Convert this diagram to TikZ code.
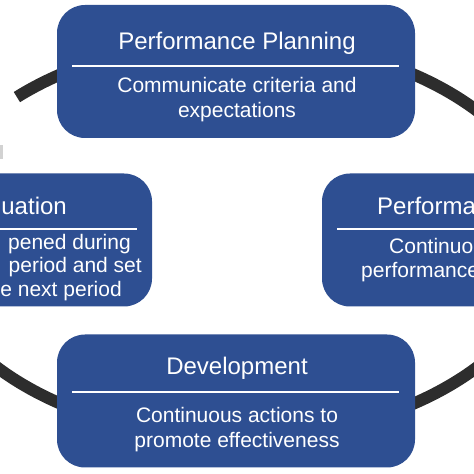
\documentclass[tikz,border=0pt]{standalone}
\usepackage{fontspec}
\setmainfont{Liberation Sans}
\usepackage{tikz}
\definecolor{boxblue}{RGB}{46,79,146}
\definecolor{ringgray}{RGB}{45,45,45}
\tikzset{
  stage/.style={fill=boxblue, rounded corners=28pt, minimum width=358pt, minimum height=133pt, inner sep=0pt},
  divider/.style={white, line width=2.6pt},
  headtext/.style={text=white, font=\fontsize{24}{28}\selectfont, inner sep=0pt},
  bodytext/.style={text=white, font=\fontsize{21}{25}\selectfont, inner sep=0pt}
}

\begin{document}
\begin{tikzpicture}[x=1pt,y=1pt]
    \useasboundingbox (0,0) rectangle (474,474);
    \clip (0,0) rectangle (474,474);
    % ring behind the boxes
    \draw[ringgray, line width=12pt] (16.9,376.9) arc[start angle=134.5, end angle=-200, x radius=314, y radius=199];
    \fill[gray!35] (0,315) rectangle (3,329);
    % boxes
    \node[stage] (plan) at (236,402.5) {};
    \node[stage] (review) at (-27,234) {};
    \node[stage] (monitor) at (501,234) {};
    \node[stage] (develop) at (236,73) {};
    % top
    \draw[divider] (72,408)--(399,408);
    \node[headtext, anchor=base] (plantitle) at (237,424) {Performance Planning};
    \node[bodytext, anchor=base] (planline1) at (237,381) {Communicate criteria and};
    \node[bodytext, anchor=base] (planline2) at (237,356) {expectations};
    % left
    \draw[divider] (-191,245)--(137,245);
    \node[headtext, anchor=base east] (reviewtitle) at (67,259) {luation};
    \node[bodytext, anchor=base east] (reviewline1) at (131,224) {pened during};
    \node[bodytext, anchor=base east] (reviewline2) at (142,201) {period and set};
    \node[bodytext, anchor=base east] (reviewline3) at (122,177) {e next period};
    % right
    \draw[divider] (337,245)--(665,245);
    \node[headtext, anchor=base west] (monitortitle) at (377,259) {Performa};
    \node[bodytext, anchor=base west] (monitorline1) at (389,220) {Continuo};
    \node[bodytext, anchor=base west] (monitorline2) at (361,196) {performance};
    % bottom
    \draw[divider] (72,82)--(399,82);
    \node[headtext, anchor=base] (developtitle) at (237,99) {Development};
    \node[bodytext, anchor=base] (developline1) at (237,51) {Continuous actions to};
    \node[bodytext, anchor=base] (developline2) at (237,27) {promote effectiveness};
\end{tikzpicture}
\end{document}
